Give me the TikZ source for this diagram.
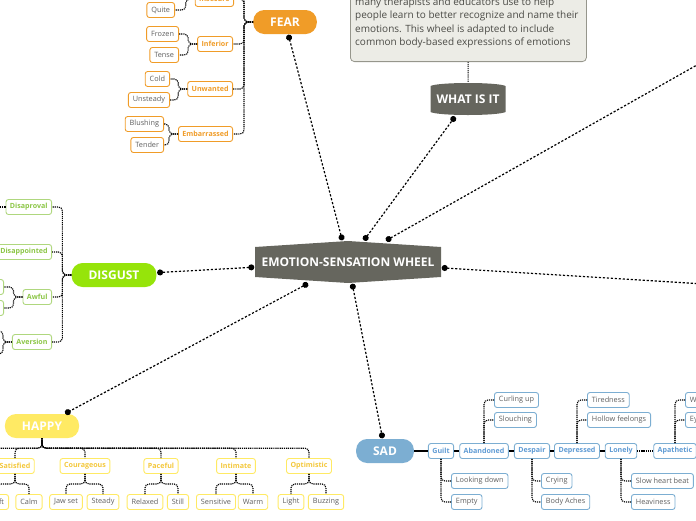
\documentclass[tikz,border=0pt]{standalone}
\usepackage{fontspec}
\setmainfont{Open Sans}
\usepackage{tikz}
\usetikzlibrary{arrows.meta,positioning}
\definecolor{wheelgrey}{RGB}{102,102,94}
\definecolor{fearorange}{RGB}{240,156,40}
\definecolor{disgustgreen}{RGB}{150,228,10}
\definecolor{disgusttext}{RGB}{140,198,70}
\definecolor{happyyellow}{RGB}{255,234,100}
\definecolor{happytext}{RGB}{244,200,60}
\definecolor{sadblue}{RGB}{124,174,210}
\definecolor{sadtext}{RGB}{95,155,212}
\definecolor{leafgrey}{RGB}{95,95,95}
\definecolor{infofill}{RGB}{236,236,230}
\definecolor{infoborder}{RGB}{150,150,140}
\definecolor{infoink}{RGB}{75,75,70}
\tikzset{hub/.style={minimum width=186pt, minimum height=42pt, inner sep=0pt, text=white, font=\fontsize{12}{14}\selectfont\bfseries,
  path picture={\fill[wheelgrey] ([yshift=-6pt]path picture bounding box.north west) -- (path picture bounding box.north) -- ([yshift=-6pt]path picture bounding box.north east) -- ([yshift=6pt]path picture bounding box.south east) -- (path picture bounding box.south) -- ([yshift=6pt]path picture bounding box.south west) -- cycle;}}}
\tikzset{barrel/.style={minimum width=75pt, minimum height=34pt, inner sep=0pt, text=white, font=\fontsize{12}{14}\selectfont\bfseries,
  path picture={\fill[wheelgrey] ([yshift=-4pt]path picture bounding box.north west) .. controls ([xshift=8pt]path picture bounding box.north west) and ([xshift=-8pt]path picture bounding box.north east) .. ([yshift=-4pt]path picture bounding box.north east) -- ([yshift=4pt]path picture bounding box.south east) .. controls ([xshift=-8pt]path picture bounding box.south east) and ([xshift=8pt]path picture bounding box.south west) .. ([yshift=4pt]path picture bounding box.south west) -- cycle;}}}
\tikzset{topic/.style={fill=#1, text=white, rounded corners=11pt, minimum height=24pt, inner xsep=17pt, inner ysep=0pt, font=\fontsize{12}{14}\selectfont\bfseries}}
\tikzset{branch/.style 2 args={draw=#1, text=#2, fill=white, line width=0.9pt, rounded corners=2.5pt, minimum height=15pt, inner xsep=4pt, inner ysep=0pt, font=\fontsize{7.1}{8}\selectfont\bfseries}}
\tikzset{leaf/.style={draw=#1, text=leafgrey, fill=white, line width=0.9pt, rounded corners=2.5pt, minimum height=15pt, inner xsep=4.5pt, inner ysep=0pt, font=\fontsize{7.3}{8}\selectfont}}
\tikzset{link/.style={line width=1.2pt, dash pattern=on 2.2pt off 1.8pt, {Circle[length=6pt]}-{Circle[length=6pt]}, shorten <=0.5pt, shorten >=0.5pt}}
\tikzset{lfork/.style={rounded corners=4pt, to path={-- ++(-9,0) |- (\tikztotarget)}},
  dfork/.style={rounded corners=4pt, to path={-- ++(0,10) -| (\tikztotarget)}},
  sfork/.style={rounded corners=4pt, to path={|- (\tikztotarget)}}}
\tikzstyle{fork}=[line width=1.1pt, dash pattern=on 1.2pt off 0.9pt]
\tikzstyle{sadbar}=[line width=2pt]
\tikzstyle{infobox}=[draw=infoborder, fill=infofill, line width=0.8pt, rounded corners=4pt, minimum width=236pt, minimum height=140pt]
\tikzstyle{infotext}=[align=left, inner sep=0pt, text=infoink, font=\fontsize{10}{13.3}\selectfont]

\begin{document}
\begin{tikzpicture}[x=1pt, y=-1pt]
\useasboundingbox (0,0) rectangle (696,520);
\clip (0,0) rectangle (696,520);

\node[hub] (wheel) at (348,262) {EMOTION-SENSATION WHEEL};
\node[infobox, anchor=south west] (info) at (350,62) {};
\node[infotext, anchor=south west] (infotext) at (355,48) {many therapists and educators use to help\\people learn to better recognize and name their\\emotions. This wheel is adapted to include\\common body-based expressions of emotions};
\node[barrel] (what) at (468,99) {WHAT IS IT};
\node[topic=fearorange] (fear) at (285,22) {FEAR};
\node[topic=disgustgreen] (disgust) at (114,275) {DISGUST};
\node[topic=happyyellow] (happy) at (42,426) {HAPPY};
\node[topic=sadblue] (sad) at (385,451) {SAD};
\coordinate (offne) at (720,52);
\coordinate (offe) at (720,285);

% fear
\node[branch={fearorange}{fearorange}, anchor=east] (insecure) at (234,-1) {Insecure};
\node[branch={fearorange}{fearorange}, anchor=east] (inferior) at (233,44) {Inferior};
\node[branch={fearorange}{fearorange}, anchor=east] (unwanted) at (233,89) {Unwanted};
\node[branch={fearorange}{fearorange}, anchor=east] (embarrassed) at (233,134) {Embarrassed};
\node[leaf=fearorange, anchor=east] (quite) at (175,10) {Quite};
\node[leaf=fearorange, anchor=east] (frozen) at (179,34) {Frozen};
\node[leaf=fearorange, anchor=east] (tense) at (179,55) {Tense};
\node[leaf=fearorange, anchor=east] (cold) at (170,79) {Cold};
\node[leaf=fearorange, anchor=east] (unsteady) at (170,100) {Unsteady};
\node[leaf=fearorange, anchor=east] (blushing) at (164,124) {Blushing};
\node[leaf=fearorange, anchor=east] (tender) at (164,145) {Tender};
\coordinate (fearup) at (233,-45);
\coordinate (insecureup) at (170,-14);

% disgust
\node[branch={disgusttext!70}{disgusttext}, anchor=east] (disaproval) at (52,207) {Disaproval};
\node[branch={disgusttext!70}{disgusttext}, anchor=east] (disappointed) at (52,252) {Disappointed};
\node[branch={disgusttext!70}{disgusttext}, anchor=east] (awful) at (52,297) {Awful};
\node[branch={disgusttext!70}{disgusttext}, anchor=east] (aversion) at (52,342) {Aversion};
\node[leaf=disgusttext!70, anchor=east, minimum width=40pt] (awfulup) at (4,287) {};
\node[leaf=disgusttext!70, anchor=east, minimum width=40pt] (awfuldown) at (4,308) {};
\coordinate (disaprovalleft) at (-10,207);
\coordinate (aversionup) at (-10,331);
\coordinate (aversiondown) at (-10,354);

% happy
\node[branch={happyyellow}{happytext}] (satisfied) at (15,466) {Satisfied};
\node[branch={happyyellow}{happytext}] (courageous) at (85,466) {Courageous};
\node[branch={happyyellow}{happytext}] (paceful) at (161,466) {Paceful};
\node[branch={happyyellow}{happytext}] (intimate) at (236,466) {Intimate};
\node[branch={happyyellow}{happytext}] (optimistic) at (309,466) {Optimistic};
\node[leaf=happyyellow, anchor=east] (soft) at (9,502) {Soft};
\node[leaf=happyyellow] (calm) at (29,502) {Calm};
\node[leaf=happyyellow] (jawset) at (66,502) {Jaw set};
\node[leaf=happyyellow] (steady) at (103,502) {Steady};
\node[leaf=happyyellow] (relaxed) at (145,502) {Relaxed};
\node[leaf=happyyellow] (still) at (178,502) {Still};
\node[leaf=happyyellow] (sensitive) at (216,502) {Sensitive};
\node[leaf=happyyellow] (warm) at (253,502) {Warm};
\node[leaf=happyyellow] (light) at (291,502) {Light};
\node[leaf=happyyellow] (buzzing) at (326,502) {Buzzing};
\coordinate (happyleft) at (-60,459);

% sad
\node[branch={sadblue}{sadtext}] (guilt) at (441,451) {Guilt};
\node[branch={sadblue}{sadtext}] (abandoned) at (484,451) {Abandoned};
\node[branch={sadblue}{sadtext}] (despair) at (532,451) {Despair};
\node[branch={sadblue}{sadtext}] (depressed) at (577,451) {Depressed};
\node[branch={sadblue}{sadtext}] (lonely) at (621,451) {Lonely};
\node[branch={sadblue}{sadtext}] (apathetic) at (675,451) {Apathetic};
\node[leaf=sadblue, anchor=west] (curling) at (494,400) {Curling up};
\node[leaf=sadblue, anchor=west] (slouching) at (494,420) {Slouching};
\node[leaf=sadblue, anchor=west] (tiredness) at (587,400) {Tiredness};
\node[leaf=sadblue, anchor=west] (hollow) at (587,420) {Hollow feelongs};
\node[leaf=sadblue, anchor=west] (withdrawn) at (685,400) {Withdrawn};
\node[leaf=sadblue, anchor=west] (eyesdown) at (685,420) {Eyes down};
\node[leaf=sadblue, anchor=west] (looking) at (451,481) {Looking down};
\node[leaf=sadblue, anchor=west] (empty) at (451,502) {Empty};
\node[leaf=sadblue, anchor=west] (crying) at (541,481) {Crying};
\node[leaf=sadblue, anchor=west] (bodyaches) at (541,502) {Body Aches};
\node[leaf=sadblue, anchor=west] (slowbeat) at (631,481) {Slow heart beat};
\node[leaf=sadblue, anchor=west] (heaviness) at (631,502) {Heaviness};

\path[link] (wheel) edge (fear)
                    edge (what)
                    edge (disgust)
                    edge (happy)
                    edge (sad);
\path[link, -] (wheel) edge[{Circle[length=6pt]}-] (offne)
                       edge[{Circle[length=6pt]}-] (offe);
\path[fork] (what) edge (info);

\path[fork] (fear.west) edge[lfork] (fearup)
                        edge[lfork] (insecure.east)
                        edge[lfork] (inferior.east)
                        edge[lfork] (unwanted.east)
                        edge[lfork] (embarrassed.east)
      (insecure.west) edge[lfork] (insecureup) edge[lfork] (quite.east)
      (inferior.west) edge[lfork] (frozen.east) edge[lfork] (tense.east)
      (unwanted.west) edge[lfork] (cold.east) edge[lfork] (unsteady.east)
      (embarrassed.west) edge[lfork] (blushing.east) edge[lfork] (tender.east);

\path[fork] (disgust.west) edge[lfork] (disaproval.east)
                           edge[lfork] (disappointed.east)
                           edge[lfork] (awful.east)
                           edge[lfork] (aversion.east)
      (disaproval.west) edge (disaprovalleft)
      (awful.west) edge[lfork] (awfulup.east) edge[lfork] (awfuldown.east)
      (aversion.west) edge[lfork] (aversionup) edge[lfork] (aversiondown);

\path[fork] (happy.south) edge[dfork] (happyleft)
                          edge[dfork] (satisfied.north)
                          edge[dfork] (courageous.north)
                          edge[dfork] (paceful.north)
                          edge[dfork] (intimate.north)
                          edge[dfork] (optimistic.north)
      (satisfied.south) edge[dfork] (soft.north) edge[dfork] (calm.north)
      (courageous.south) edge[dfork] (jawset.north) edge[dfork] (steady.north)
      (paceful.south) edge[dfork] (relaxed.north) edge[dfork] (still.north)
      (intimate.south) edge[dfork] (sensitive.north) edge[dfork] (warm.north)
      (optimistic.south) edge[dfork] (light.north) edge[dfork] (buzzing.north);

\path[sadbar] (sad) edge (guilt)
              (guilt) edge (abandoned)
              (abandoned) edge (despair)
              (despair) edge (depressed)
              (depressed) edge (lonely);
\path[fork] (lonely) edge (apathetic)
      (abandoned.north) edge[sfork] (curling.west) edge[sfork] (slouching.west)
      (depressed.north) edge[sfork] (tiredness.west) edge[sfork] (hollow.west)
      (apathetic.north) edge[sfork] (withdrawn.west) edge[sfork] (eyesdown.west)
      (guilt.south) edge[sfork] (looking.west) edge[sfork] (empty.west)
      (despair.south) edge[sfork] (crying.west) edge[sfork] (bodyaches.west)
      (lonely.south) edge[sfork] (slowbeat.west) edge[sfork] (heaviness.west);
\end{tikzpicture}
\end{document}
